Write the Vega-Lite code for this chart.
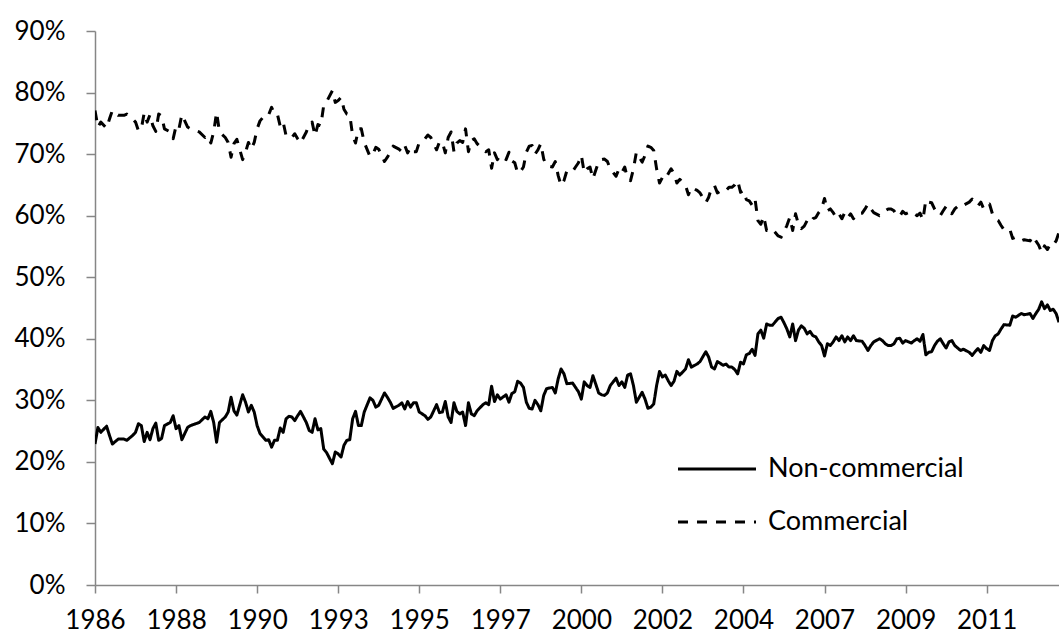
{
"$schema":"https://vega.github.io/schema/vega-lite/v6.json",
"width":964,"height":554,
"autosize":{"type":"none"},
"padding":{"left":95,"top":31,"right":0,"bottom":52},
"background":"white",
"config":{"view":{"stroke":null},"font":"Lato"},
"data":{"values":[
{"m":0,"Non-commercial":22.9,"Commercial":77.1},
{"m":1,"Non-commercial":25.6,"Commercial":74.4},
{"m":2,"Non-commercial":24.8,"Commercial":75.2},
{"m":4,"Non-commercial":25.8,"Commercial":74.2},
{"m":5,"Non-commercial":24.3,"Commercial":75.7},
{"m":6,"Non-commercial":22.9,"Commercial":77.1},
{"m":8,"Non-commercial":23.7,"Commercial":76.3},
{"m":10,"Non-commercial":23.7,"Commercial":76.3},
{"m":11,"Non-commercial":23.5,"Commercial":76.5},
{"m":13,"Non-commercial":24.3,"Commercial":75.7},
{"m":14,"Non-commercial":24.8,"Commercial":75.2},
{"m":15,"Non-commercial":26.2,"Commercial":73.8},
{"m":16,"Non-commercial":25.9,"Commercial":74.1},
{"m":17,"Non-commercial":23.3,"Commercial":76.7},
{"m":18,"Non-commercial":24.8,"Commercial":75.2},
{"m":19,"Non-commercial":23.6,"Commercial":76.4},
{"m":20,"Non-commercial":25.4,"Commercial":74.6},
{"m":21,"Non-commercial":26.3,"Commercial":73.7},
{"m":22,"Non-commercial":23.5,"Commercial":76.5},
{"m":23,"Non-commercial":23.8,"Commercial":76.2},
{"m":24,"Non-commercial":25.9,"Commercial":74.1},
{"m":26,"Non-commercial":26.4,"Commercial":73.6},
{"m":27,"Non-commercial":27.5,"Commercial":72.5},
{"m":28,"Non-commercial":25.4,"Commercial":74.6},
{"m":29,"Non-commercial":25.9,"Commercial":74.1},
{"m":30,"Non-commercial":23.6,"Commercial":76.4},
{"m":32,"Non-commercial":25.6,"Commercial":74.4},
{"m":33,"Non-commercial":25.9,"Commercial":74.1},
{"m":36,"Non-commercial":26.4,"Commercial":73.6},
{"m":38,"Non-commercial":27.3,"Commercial":72.7},
{"m":39,"Non-commercial":27.0,"Commercial":73.0},
{"m":40,"Non-commercial":28.2,"Commercial":71.8},
{"m":41,"Non-commercial":26.4,"Commercial":73.6},
{"m":42,"Non-commercial":23.2,"Commercial":76.8},
{"m":43,"Non-commercial":26.4,"Commercial":73.6},
{"m":45,"Non-commercial":27.3,"Commercial":72.7},
{"m":46,"Non-commercial":28.1,"Commercial":71.9},
{"m":47,"Non-commercial":30.5,"Commercial":69.5},
{"m":48,"Non-commercial":28.3,"Commercial":71.7},
{"m":49,"Non-commercial":27.6,"Commercial":72.4},
{"m":51,"Non-commercial":30.9,"Commercial":69.1},
{"m":52,"Non-commercial":29.7,"Commercial":70.3},
{"m":53,"Non-commercial":28.1,"Commercial":71.9},
{"m":54,"Non-commercial":29.2,"Commercial":70.8},
{"m":55,"Non-commercial":28.1,"Commercial":71.9},
{"m":56,"Non-commercial":25.9,"Commercial":74.1},
{"m":57,"Non-commercial":24.6,"Commercial":75.4},
{"m":59,"Non-commercial":23.5,"Commercial":76.5},
{"m":60,"Non-commercial":23.6,"Commercial":76.4},
{"m":61,"Non-commercial":22.4,"Commercial":77.6},
{"m":62,"Non-commercial":23.5,"Commercial":76.5},
{"m":63,"Non-commercial":23.5,"Commercial":76.5},
{"m":64,"Non-commercial":25.5,"Commercial":74.5},
{"m":65,"Non-commercial":24.8,"Commercial":75.2},
{"m":66,"Non-commercial":27.0,"Commercial":73.0},
{"m":67,"Non-commercial":27.4,"Commercial":72.6},
{"m":68,"Non-commercial":27.3,"Commercial":72.7},
{"m":69,"Non-commercial":26.7,"Commercial":73.3},
{"m":70,"Non-commercial":27.5,"Commercial":72.5},
{"m":71,"Non-commercial":28.2,"Commercial":71.8},
{"m":73,"Non-commercial":26.4,"Commercial":73.6},
{"m":74,"Non-commercial":25.1,"Commercial":74.9},
{"m":75,"Non-commercial":24.8,"Commercial":75.2},
{"m":76,"Non-commercial":27.0,"Commercial":73.0},
{"m":77,"Non-commercial":25.2,"Commercial":74.8},
{"m":78,"Non-commercial":25.4,"Commercial":74.6},
{"m":79,"Non-commercial":22.1,"Commercial":77.9},
{"m":80,"Non-commercial":21.5,"Commercial":78.5},
{"m":82,"Non-commercial":19.7,"Commercial":80.3},
{"m":83,"Non-commercial":21.6,"Commercial":78.4},
{"m":84,"Non-commercial":21.3,"Commercial":78.7},
{"m":85,"Non-commercial":20.8,"Commercial":79.2},
{"m":86,"Non-commercial":22.7,"Commercial":77.3},
{"m":87,"Non-commercial":23.5,"Commercial":76.5},
{"m":88,"Non-commercial":23.6,"Commercial":76.4},
{"m":89,"Non-commercial":27.0,"Commercial":73.0},
{"m":90,"Non-commercial":28.2,"Commercial":71.8},
{"m":91,"Non-commercial":25.9,"Commercial":74.1},
{"m":92,"Non-commercial":25.9,"Commercial":74.1},
{"m":93,"Non-commercial":28.1,"Commercial":71.9},
{"m":95,"Non-commercial":30.4,"Commercial":69.6},
{"m":96,"Non-commercial":30.0,"Commercial":70.0},
{"m":97,"Non-commercial":28.9,"Commercial":71.1},
{"m":98,"Non-commercial":29.2,"Commercial":70.8},
{"m":100,"Non-commercial":31.2,"Commercial":68.8},
{"m":101,"Non-commercial":30.5,"Commercial":69.5},
{"m":102,"Non-commercial":29.7,"Commercial":70.3},
{"m":103,"Non-commercial":28.7,"Commercial":71.3},
{"m":105,"Non-commercial":29.2,"Commercial":70.8},
{"m":106,"Non-commercial":29.6,"Commercial":70.4},
{"m":107,"Non-commercial":28.6,"Commercial":71.4},
{"m":108,"Non-commercial":29.8,"Commercial":70.2},
{"m":109,"Non-commercial":28.9,"Commercial":71.1},
{"m":110,"Non-commercial":29.6,"Commercial":70.4},
{"m":111,"Non-commercial":29.6,"Commercial":70.4},
{"m":112,"Non-commercial":28.1,"Commercial":71.9},
{"m":114,"Non-commercial":27.5,"Commercial":72.5},
{"m":115,"Non-commercial":26.9,"Commercial":73.1},
{"m":116,"Non-commercial":27.3,"Commercial":72.7},
{"m":118,"Non-commercial":29.3,"Commercial":70.7},
{"m":119,"Non-commercial":28.0,"Commercial":72.0},
{"m":120,"Non-commercial":28.1,"Commercial":71.9},
{"m":121,"Non-commercial":29.8,"Commercial":70.2},
{"m":122,"Non-commercial":27.3,"Commercial":72.7},
{"m":123,"Non-commercial":26.4,"Commercial":73.6},
{"m":124,"Non-commercial":29.6,"Commercial":70.4},
{"m":125,"Non-commercial":28.2,"Commercial":71.8},
{"m":126,"Non-commercial":27.8,"Commercial":72.2},
{"m":127,"Non-commercial":28.1,"Commercial":71.9},
{"m":128,"Non-commercial":25.9,"Commercial":74.1},
{"m":129,"Non-commercial":29.6,"Commercial":70.4},
{"m":130,"Non-commercial":27.8,"Commercial":72.2},
{"m":131,"Non-commercial":27.5,"Commercial":72.5},
{"m":132,"Non-commercial":28.3,"Commercial":71.7},
{"m":134,"Non-commercial":29.3,"Commercial":70.7},
{"m":135,"Non-commercial":29.6,"Commercial":70.4},
{"m":136,"Non-commercial":29.3,"Commercial":70.7},
{"m":137,"Non-commercial":32.3,"Commercial":67.7},
{"m":138,"Non-commercial":29.8,"Commercial":70.2},
{"m":139,"Non-commercial":30.9,"Commercial":69.1},
{"m":140,"Non-commercial":30.2,"Commercial":69.8},
{"m":142,"Non-commercial":30.9,"Commercial":69.1},
{"m":143,"Non-commercial":29.7,"Commercial":70.3},
{"m":144,"Non-commercial":31.1,"Commercial":68.9},
{"m":145,"Non-commercial":31.4,"Commercial":68.6},
{"m":146,"Non-commercial":33.1,"Commercial":66.9},
{"m":147,"Non-commercial":32.8,"Commercial":67.2},
{"m":148,"Non-commercial":32.1,"Commercial":67.9},
{"m":149,"Non-commercial":29.7,"Commercial":70.3},
{"m":150,"Non-commercial":28.7,"Commercial":71.3},
{"m":151,"Non-commercial":28.6,"Commercial":71.4},
{"m":152,"Non-commercial":30.0,"Commercial":70.0},
{"m":153,"Non-commercial":29.3,"Commercial":70.7},
{"m":154,"Non-commercial":28.3,"Commercial":71.7},
{"m":155,"Non-commercial":30.8,"Commercial":69.2},
{"m":156,"Non-commercial":31.9,"Commercial":68.1},
{"m":158,"Non-commercial":32.1,"Commercial":67.9},
{"m":159,"Non-commercial":31.2,"Commercial":68.8},
{"m":160,"Non-commercial":33.5,"Commercial":66.5},
{"m":161,"Non-commercial":35.1,"Commercial":64.9},
{"m":162,"Non-commercial":34.3,"Commercial":65.7},
{"m":163,"Non-commercial":32.7,"Commercial":67.3},
{"m":165,"Non-commercial":32.8,"Commercial":67.2},
{"m":166,"Non-commercial":32.1,"Commercial":67.9},
{"m":167,"Non-commercial":31.4,"Commercial":68.6},
{"m":168,"Non-commercial":30.2,"Commercial":69.8},
{"m":169,"Non-commercial":33.0,"Commercial":67.0},
{"m":170,"Non-commercial":32.4,"Commercial":67.6},
{"m":171,"Non-commercial":32.1,"Commercial":67.9},
{"m":172,"Non-commercial":34.0,"Commercial":66.0},
{"m":174,"Non-commercial":31.2,"Commercial":68.8},
{"m":175,"Non-commercial":30.9,"Commercial":69.1},
{"m":176,"Non-commercial":30.8,"Commercial":69.2},
{"m":177,"Non-commercial":31.2,"Commercial":68.8},
{"m":178,"Non-commercial":32.4,"Commercial":67.6},
{"m":180,"Non-commercial":33.6,"Commercial":66.4},
{"m":181,"Non-commercial":32.4,"Commercial":67.6},
{"m":182,"Non-commercial":33.0,"Commercial":67.0},
{"m":183,"Non-commercial":32.1,"Commercial":67.9},
{"m":184,"Non-commercial":34.1,"Commercial":65.9},
{"m":185,"Non-commercial":34.3,"Commercial":65.7},
{"m":186,"Non-commercial":32.4,"Commercial":67.6},
{"m":187,"Non-commercial":29.7,"Commercial":70.3},
{"m":189,"Non-commercial":31.3,"Commercial":68.7},
{"m":190,"Non-commercial":30.2,"Commercial":69.8},
{"m":191,"Non-commercial":28.7,"Commercial":71.3},
{"m":192,"Non-commercial":28.9,"Commercial":71.1},
{"m":193,"Non-commercial":29.4,"Commercial":70.6},
{"m":194,"Non-commercial":32.4,"Commercial":67.6},
{"m":195,"Non-commercial":34.7,"Commercial":65.3},
{"m":196,"Non-commercial":33.8,"Commercial":66.2},
{"m":197,"Non-commercial":34.1,"Commercial":65.9},
{"m":198,"Non-commercial":33.2,"Commercial":66.8},
{"m":199,"Non-commercial":32.4,"Commercial":67.6},
{"m":200,"Non-commercial":33.1,"Commercial":66.9},
{"m":201,"Non-commercial":34.7,"Commercial":65.3},
{"m":202,"Non-commercial":34.1,"Commercial":65.9},
{"m":203,"Non-commercial":34.6,"Commercial":65.4},
{"m":204,"Non-commercial":35.1,"Commercial":64.9},
{"m":205,"Non-commercial":36.6,"Commercial":63.4},
{"m":206,"Non-commercial":35.4,"Commercial":64.6},
{"m":208,"Non-commercial":35.9,"Commercial":64.1},
{"m":209,"Non-commercial":36.3,"Commercial":63.7},
{"m":211,"Non-commercial":37.9,"Commercial":62.1},
{"m":212,"Non-commercial":37.0,"Commercial":63.0},
{"m":213,"Non-commercial":35.4,"Commercial":64.6},
{"m":214,"Non-commercial":35.1,"Commercial":64.9},
{"m":215,"Non-commercial":36.3,"Commercial":63.7},
{"m":217,"Non-commercial":35.7,"Commercial":64.3},
{"m":218,"Non-commercial":35.9,"Commercial":64.1},
{"m":219,"Non-commercial":35.4,"Commercial":64.6},
{"m":220,"Non-commercial":35.4,"Commercial":64.6},
{"m":221,"Non-commercial":35.0,"Commercial":65.0},
{"m":222,"Non-commercial":34.3,"Commercial":65.7},
{"m":223,"Non-commercial":36.2,"Commercial":63.8},
{"m":224,"Non-commercial":35.9,"Commercial":64.1},
{"m":225,"Non-commercial":37.4,"Commercial":62.6},
{"m":226,"Non-commercial":37.6,"Commercial":62.4},
{"m":227,"Non-commercial":38.3,"Commercial":61.7},
{"m":228,"Non-commercial":37.3,"Commercial":62.7},
{"m":229,"Non-commercial":40.8,"Commercial":59.2},
{"m":230,"Non-commercial":41.4,"Commercial":58.6},
{"m":231,"Non-commercial":40.1,"Commercial":59.9},
{"m":232,"Non-commercial":42.4,"Commercial":57.6},
{"m":233,"Non-commercial":42.2,"Commercial":57.8},
{"m":234,"Non-commercial":42.2,"Commercial":57.8},
{"m":236,"Non-commercial":43.3,"Commercial":56.7},
{"m":237,"Non-commercial":43.5,"Commercial":56.5},
{"m":238,"Non-commercial":42.6,"Commercial":57.4},
{"m":239,"Non-commercial":41.6,"Commercial":58.4},
{"m":240,"Non-commercial":40.3,"Commercial":59.7},
{"m":241,"Non-commercial":42.4,"Commercial":57.6},
{"m":242,"Non-commercial":39.7,"Commercial":60.3},
{"m":243,"Non-commercial":41.4,"Commercial":58.6},
{"m":244,"Non-commercial":42.1,"Commercial":57.9},
{"m":245,"Non-commercial":41.7,"Commercial":58.3},
{"m":246,"Non-commercial":40.8,"Commercial":59.2},
{"m":247,"Non-commercial":41.2,"Commercial":58.8},
{"m":248,"Non-commercial":40.5,"Commercial":59.5},
{"m":249,"Non-commercial":40.3,"Commercial":59.7},
{"m":250,"Non-commercial":39.5,"Commercial":60.5},
{"m":251,"Non-commercial":38.9,"Commercial":61.1},
{"m":252,"Non-commercial":37.2,"Commercial":62.8},
{"m":253,"Non-commercial":39.2,"Commercial":60.8},
{"m":254,"Non-commercial":38.9,"Commercial":61.1},
{"m":255,"Non-commercial":39.5,"Commercial":60.5},
{"m":256,"Non-commercial":40.3,"Commercial":59.7},
{"m":257,"Non-commercial":39.7,"Commercial":60.3},
{"m":258,"Non-commercial":40.5,"Commercial":59.5},
{"m":259,"Non-commercial":39.5,"Commercial":60.5},
{"m":260,"Non-commercial":40.3,"Commercial":59.7},
{"m":261,"Non-commercial":39.7,"Commercial":60.3},
{"m":262,"Non-commercial":40.5,"Commercial":59.5},
{"m":263,"Non-commercial":39.7,"Commercial":60.3},
{"m":265,"Non-commercial":39.6,"Commercial":60.4},
{"m":266,"Non-commercial":38.9,"Commercial":61.1},
{"m":267,"Non-commercial":38.1,"Commercial":61.9},
{"m":268,"Non-commercial":38.9,"Commercial":61.1},
{"m":269,"Non-commercial":39.5,"Commercial":60.5},
{"m":271,"Non-commercial":40.0,"Commercial":60.0},
{"m":272,"Non-commercial":39.7,"Commercial":60.3},
{"m":273,"Non-commercial":39.2,"Commercial":60.8},
{"m":274,"Non-commercial":38.9,"Commercial":61.1},
{"m":275,"Non-commercial":38.9,"Commercial":61.1},
{"m":276,"Non-commercial":39.2,"Commercial":60.8},
{"m":277,"Non-commercial":40.0,"Commercial":60.0},
{"m":278,"Non-commercial":40.1,"Commercial":59.9},
{"m":279,"Non-commercial":39.3,"Commercial":60.7},
{"m":280,"Non-commercial":39.7,"Commercial":60.3},
{"m":282,"Non-commercial":39.3,"Commercial":60.7},
{"m":283,"Non-commercial":39.7,"Commercial":60.3},
{"m":284,"Non-commercial":40.0,"Commercial":60.0},
{"m":285,"Non-commercial":39.6,"Commercial":60.4},
{"m":286,"Non-commercial":40.7,"Commercial":59.3},
{"m":287,"Non-commercial":37.4,"Commercial":62.6},
{"m":288,"Non-commercial":37.8,"Commercial":62.2},
{"m":289,"Non-commercial":37.9,"Commercial":62.1},
{"m":290,"Non-commercial":38.9,"Commercial":61.1},
{"m":291,"Non-commercial":39.6,"Commercial":60.4},
{"m":292,"Non-commercial":40.0,"Commercial":60.0},
{"m":293,"Non-commercial":39.2,"Commercial":60.8},
{"m":294,"Non-commercial":38.5,"Commercial":61.5},
{"m":295,"Non-commercial":39.5,"Commercial":60.5},
{"m":296,"Non-commercial":39.7,"Commercial":60.3},
{"m":297,"Non-commercial":38.9,"Commercial":61.1},
{"m":298,"Non-commercial":38.5,"Commercial":61.5},
{"m":299,"Non-commercial":38.1,"Commercial":61.9},
{"m":300,"Non-commercial":38.3,"Commercial":61.7},
{"m":302,"Non-commercial":37.8,"Commercial":62.2},
{"m":303,"Non-commercial":37.3,"Commercial":62.7},
{"m":304,"Non-commercial":37.9,"Commercial":62.1},
{"m":305,"Non-commercial":38.4,"Commercial":61.6},
{"m":306,"Non-commercial":37.8,"Commercial":62.2},
{"m":307,"Non-commercial":38.9,"Commercial":61.1},
{"m":308,"Non-commercial":38.4,"Commercial":61.6},
{"m":309,"Non-commercial":38.1,"Commercial":61.9},
{"m":310,"Non-commercial":39.7,"Commercial":60.3},
{"m":311,"Non-commercial":40.5,"Commercial":59.5},
{"m":312,"Non-commercial":40.8,"Commercial":59.2},
{"m":313,"Non-commercial":41.6,"Commercial":58.4},
{"m":314,"Non-commercial":42.3,"Commercial":57.7},
{"m":316,"Non-commercial":42.2,"Commercial":57.8},
{"m":317,"Non-commercial":43.7,"Commercial":56.3},
{"m":318,"Non-commercial":43.5,"Commercial":56.5},
{"m":319,"Non-commercial":43.8,"Commercial":56.2},
{"m":320,"Non-commercial":44.1,"Commercial":55.9},
{"m":321,"Non-commercial":43.9,"Commercial":56.1},
{"m":323,"Non-commercial":44.1,"Commercial":55.9},
{"m":324,"Non-commercial":43.3,"Commercial":56.7},
{"m":325,"Non-commercial":44.1,"Commercial":55.9},
{"m":326,"Non-commercial":44.8,"Commercial":55.2},
{"m":327,"Non-commercial":46.0,"Commercial":54.0},
{"m":328,"Non-commercial":44.9,"Commercial":55.1},
{"m":329,"Non-commercial":45.5,"Commercial":54.5},
{"m":330,"Non-commercial":44.6,"Commercial":55.4},
{"m":331,"Non-commercial":44.8,"Commercial":55.2},
{"m":332,"Non-commercial":44.1,"Commercial":55.9},
{"m":333,"Non-commercial":42.7,"Commercial":57.3}
]},
"transform":[{"fold":["Non-commercial","Commercial"],"as":["series","value"]}],
"mark":{"type":"line","color":"black","strokeWidth":3,"clip":true,"strokeCap":"butt","strokeJoin":"round"},
"encoding":{
"x":{"field":"m","type":"quantitative","scale":{"domain":[0,333],"nice":false,"zero":false},
"axis":{"values":[0,28,56,84,112,140,168,196,224,252,280,308],"labelExpr":"toString(1986 + floor(datum.value/12))","grid":false,"title":null,"domainColor":"#868686","domainWidth":1.5,"tickColor":"#868686","tickWidth":1.5,"tickSize":8,"labelFont":"Lato","labelFontSize":26,"labelColor":"black","labelPadding":14,"labelFlush":false,"labelOverlap":false}},
"y":{"field":"value","type":"quantitative","scale":{"domain":[0,90],"nice":false},
"axis":{"values":[0,10,20,30,40,50,60,70,80,90],"labelExpr":"datum.value + '%'","grid":false,"title":null,"domainColor":"#868686","domainWidth":1.5,"tickColor":"#868686","tickWidth":1.5,"tickSize":9,"labelFont":"Lato","labelFontSize":26,"labelColor":"black","labelPadding":21,"labelOverlap":false}},
"strokeDash":{"field":"series","type":"nominal","scale":{"domain":["Non-commercial","Commercial"],"range":[[1,0],[10,9]]},
"legend":{"title":null,"orient":"none","legendX":601,"legendY":417,"padding":0,"symbolType":"M-2,0H2","symbolSize":1521,"symbolStrokeWidth":3,"symbolStrokeColor":"black","symbolFillColor":"transparent","labelFont":"Lato","labelFontSize":27,"labelColor":"black","labelOffset":30,"labelLimit":400,"rowPadding":19}}
}
}
